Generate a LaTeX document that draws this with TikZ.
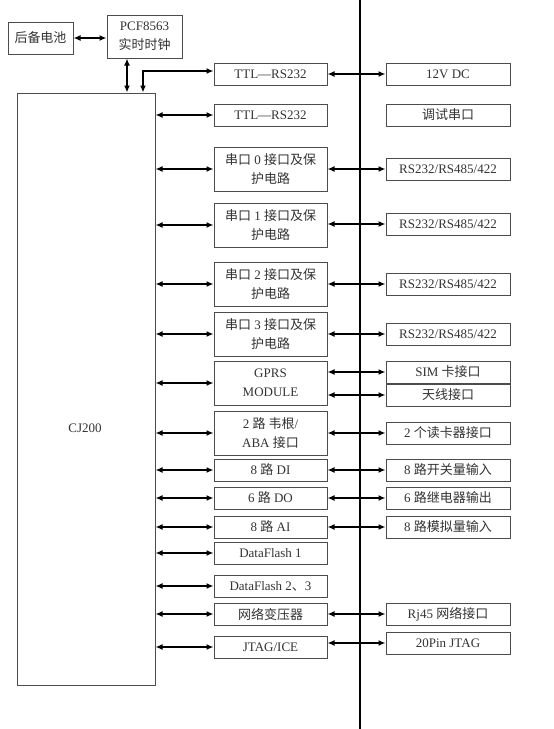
\documentclass[tikz,border=0pt]{standalone}
\usepackage{fontspec}
\setmainfont{Liberation Serif}
\newfontfamily\cjk{Noto Sans CJK SC}
\newcommand{\zh}[1]{{\cjk #1}}
\usetikzlibrary{positioning, arrows.meta}
\tikzset{
	basebox/.style={
			draw=black!70,
			line width=1pt,
			fill=white,
			text=black!80,
			align=center,
			inner sep=1pt,
			font=\fontsize{13}{19}\selectfont
		},
	midbox/.style={
			basebox,
			minimum width=113pt,
			minimum height=22pt
		},
	midtall/.style={
			midbox,
			minimum height=44pt
		},
	rightbox/.style={
			basebox,
			minimum width=124pt,
			minimum height=22pt
		},
	dblarrow/.style={
			line width=1.8pt,
			{Latex[length=7pt,width=6pt]}-{Latex[length=7pt,width=6pt]}
		}
}

\begin{document}
\begin{tikzpicture}[x=1pt, y=-1pt]
\useasboundingbox (0,0) rectangle (554,729);

% left part
\node[basebox, minimum width=65pt, minimum height=32pt] (bat) at (40.5,38) {\zh{后备电池}};
\node[basebox, minimum width=75pt, minimum height=43pt] (rtc) at (144.5,36.5) {PCF8563\\\zh{实时时钟}};
\node[basebox, minimum width=138pt, minimum height=592pt] (cj) at (86,389) {};
\node[text=black!80, font=\fontsize{13}{15}\selectfont] (cjtxt) at (85,428) {CJ200};
\coordinate (rtcx) at (127,0);
\coordinate (tap) at (143,71);

% separator
\draw[line width=1.5pt] (360,0) -- (360,729);

% middle column
\node[midbox] (m1) at (270.5,74) {TTL—RS232};
\node[midbox] (m2) at (270.5,115) {TTL—RS232};
\node[midtall] (m3) at (270.5,169) {\zh{串口} 0 \zh{接口及保}\\\zh{护电路}};
\node[midtall] (m4) at (270.5,225) {\zh{串口} 1 \zh{接口及保}\\\zh{护电路}};
\node[midtall] (m5) at (270.5,284) {\zh{串口} 2 \zh{接口及保}\\\zh{护电路}};
\node[midtall] (m6) at (270.5,334) {\zh{串口} 3 \zh{接口及保}\\\zh{护电路}};
\node[midtall] (m7) at (270.5,383) {GPRS\\MODULE};
\node[midtall] (m8) at (270.5,433) {2 \zh{路\ 韦根}/\\ABA \zh{接口}};
\node[midbox] (m9) at (270.5,470) {8 \zh{路} DI};
\node[midbox] (m10) at (270.5,498) {6 \zh{路} DO};
\node[midbox] (m11) at (270.5,527) {8 \zh{路} AI};
\node[midbox] (m12) at (270.5,553) {DataFlash 1};
\node[midbox] (m13) at (270.5,586) {DataFlash 2\zh{、}3};
\node[midbox] (m14) at (270.5,614) {\zh{网络变压器}};
\node[midbox] (m15) at (270.5,647) {JTAG/ICE};

% right column
\node[rightbox] (r1) at (448,74) {12V DC};
\node[rightbox] (r2) at (448,115) {\zh{调试串口}};
\node[rightbox] (r3) at (448,169) {RS232/RS485/422};
\node[rightbox] (r4) at (448,224) {RS232/RS485/422};
\node[rightbox] (r5) at (448,284) {RS232/RS485/422};
\node[rightbox] (r6) at (448,334) {RS232/RS485/422};
\node[rightbox] (r7) at (448,372) {SIM \zh{卡接口}};
\node[rightbox] (r7b) at (448,395) {\zh{天线接口}};
\node[rightbox] (r8) at (448,433) {2 \zh{个读卡器接口}};
\node[rightbox] (r9) at (448,470) {8 \zh{路开关量输入}};
\node[rightbox] (r10) at (448,498) {6 \zh{路继电器输出}};
\node[rightbox] (r11) at (448,527) {8 \zh{路模拟量输入}};
\node[rightbox] (r14) at (448,614) {Rj45 \zh{网络接口}};
\node[rightbox] (r15) at (448,643) {20Pin JTAG};

% connectors
\draw[dblarrow] (bat.east) -- (rtc.west |- bat.east);
\draw[dblarrow] (rtc.south -| rtcx) -- (cj.north -| rtcx);
\draw[dblarrow] (cj.north -| tap) |- (m1.west |- tap);

\foreach \m in {m2,m3,m4,m5,m6,m7,m8,m9,m10,m11,m12,m13,m14,m15}
  \draw[dblarrow] (\m.west) -- (\m.west -| cj.east);

\draw[dblarrow] (m1.east) -- (r1.west |- m1.east);
\foreach \m/\r in {m3/r3,m4/r4,m5/r5,m6/r6,m7/r7,m7/r7b,m8/r8,m9/r9,m10/r10,m11/r11,m14/r14,m15/r15}
  \draw[dblarrow] (\r.west) -- (\r.west -| \m.east);
\end{tikzpicture}
\end{document}
